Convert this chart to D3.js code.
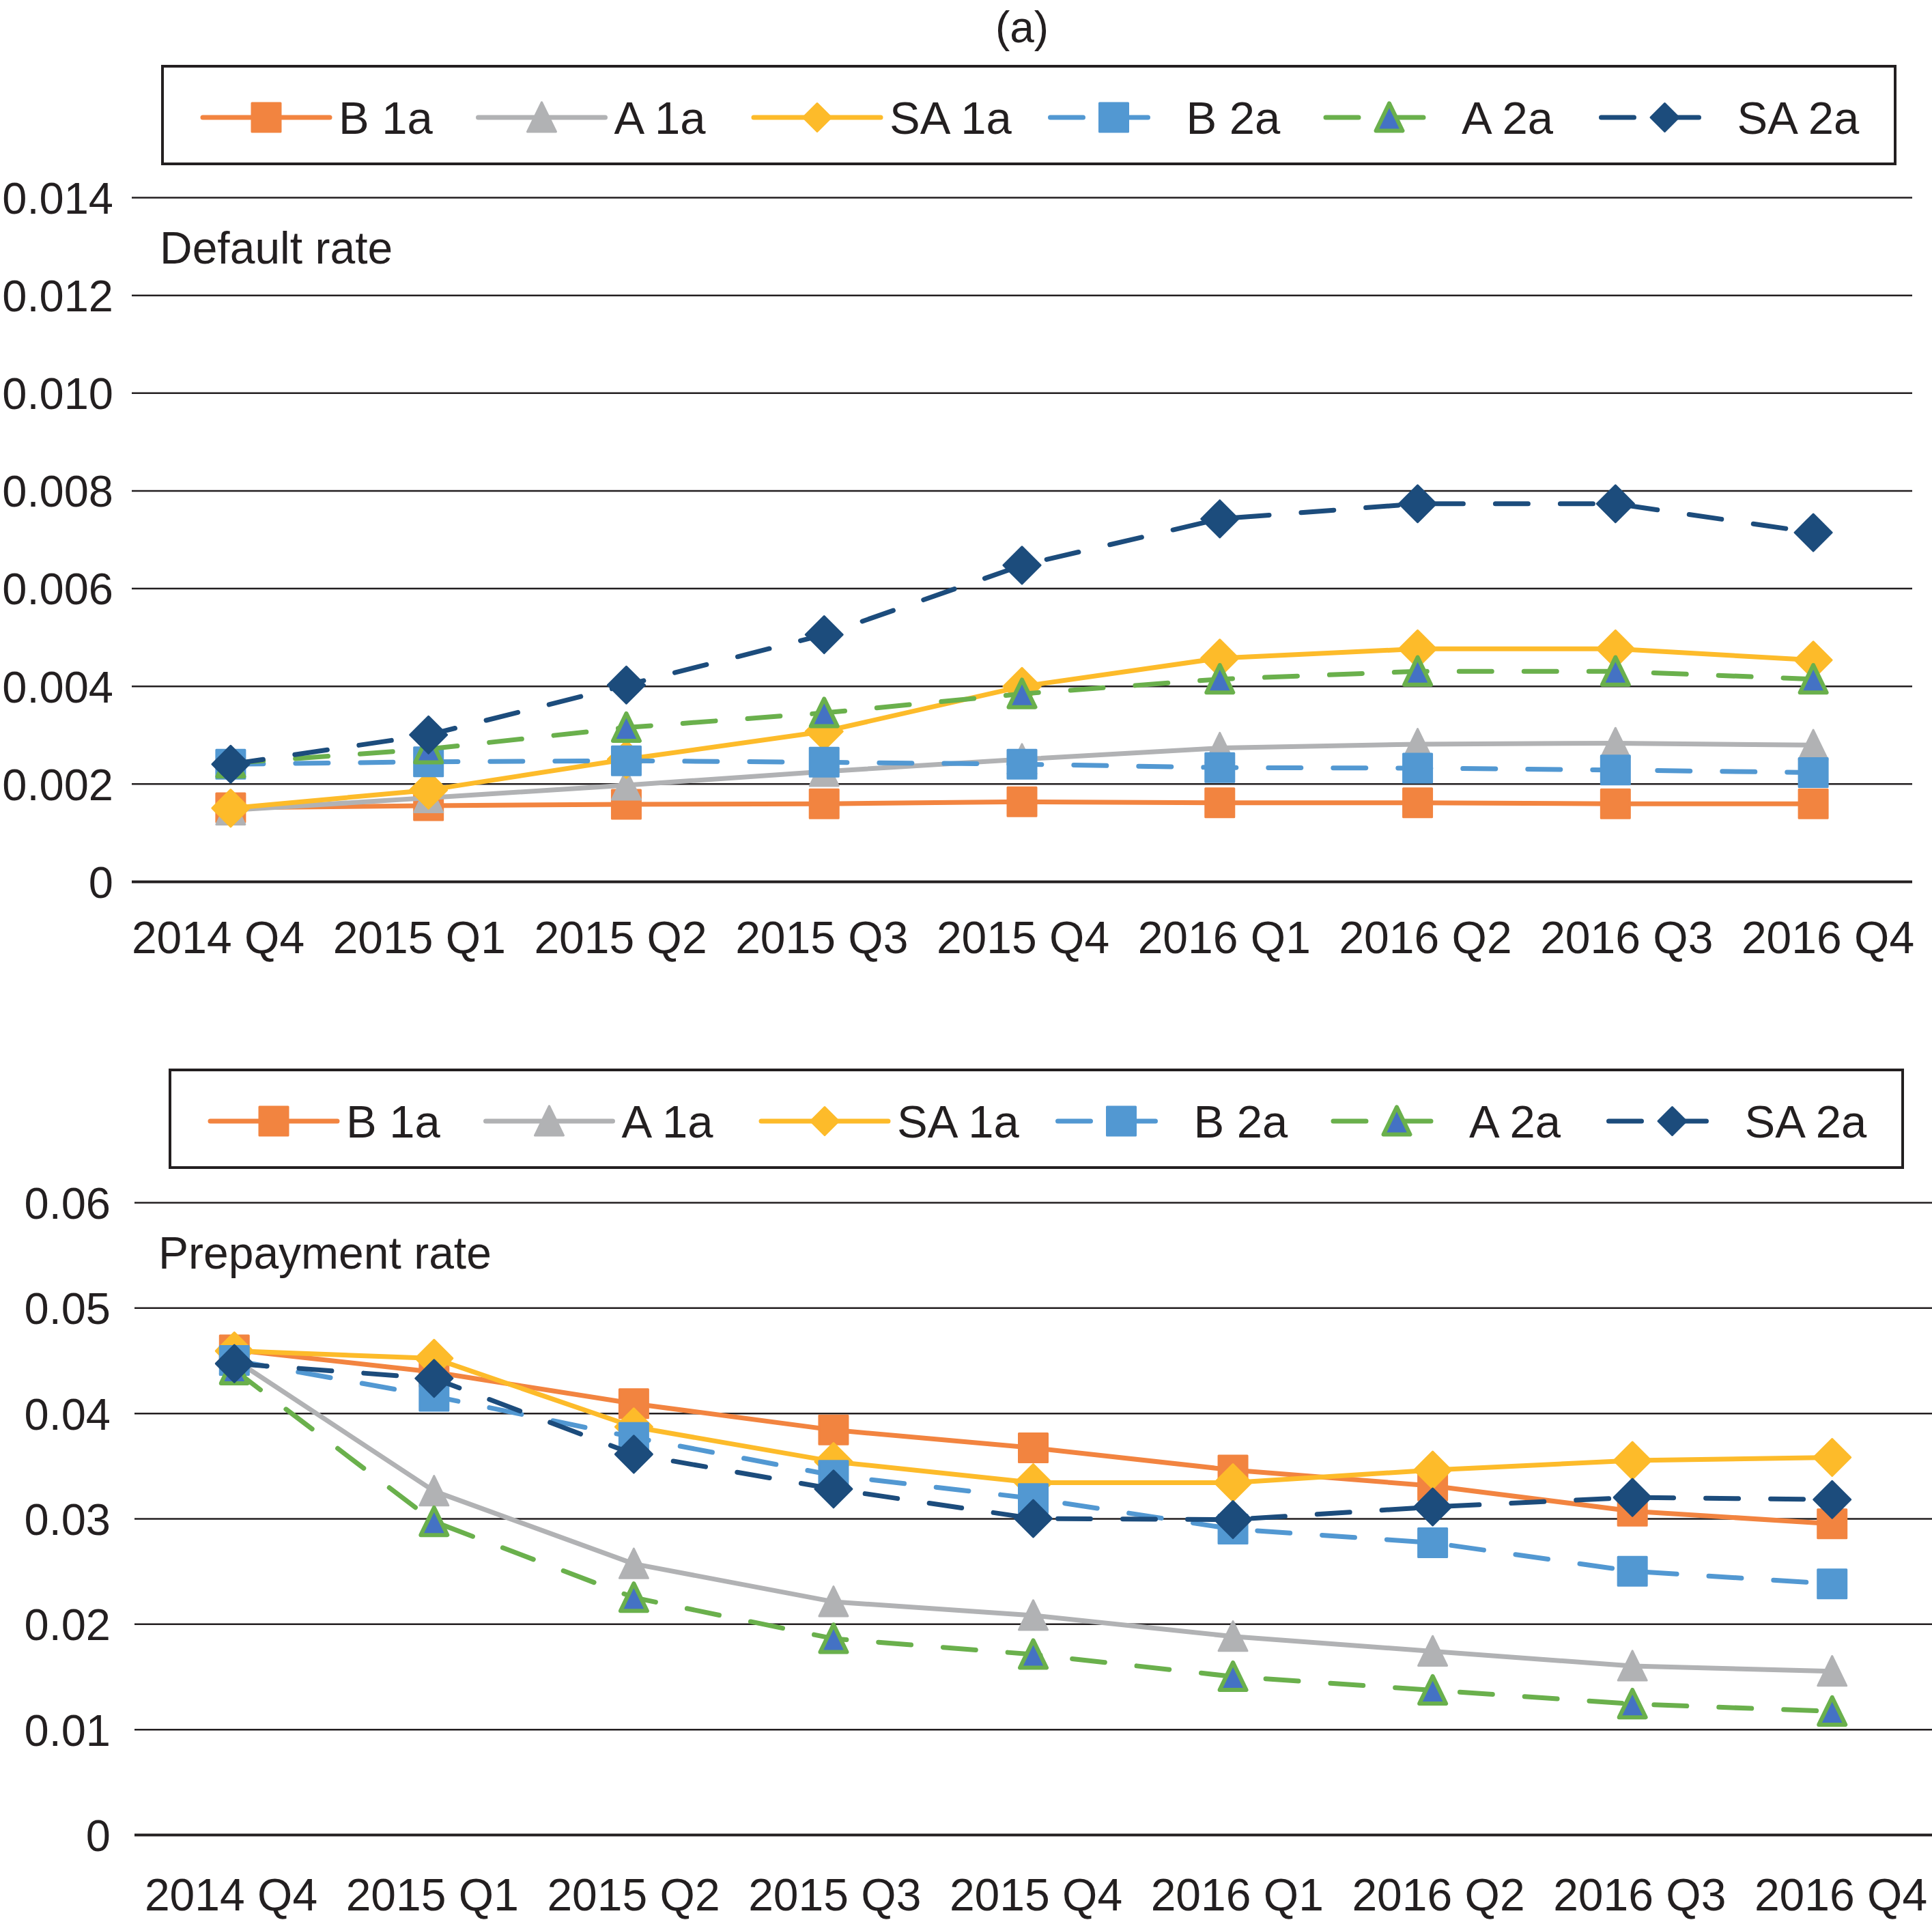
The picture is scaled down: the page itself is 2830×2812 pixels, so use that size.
<!DOCTYPE html>
<html>
<head>
<meta charset="utf-8">
<script src="https://cdn.jsdelivr.net/npm/d3@7"></script>
<style>
  html, body { margin: 0; padding: 0; background: #fff; }
  svg { display: block; }
</style>
</head>
<body>
<svg id="chart" width="2830" height="2812"></svg>
<script>
// categories
const quarters = ['2014 Q4', '2015 Q1', '2015 Q2', '2015 Q3', '2015 Q4', '2016 Q1', '2016 Q2', '2016 Q3', '2016 Q4'];
const seriesNames = ['B 1a', 'A 1a', 'SA 1a', 'B 2a', 'A 2a', 'SA 2a'];

// default rate
const defB1a  = [0.00151, 0.00155, 0.00158, 0.00159, 0.00163, 0.00161, 0.00161, 0.00159, 0.00159];
const defA1a  = [0.00146, 0.00171, 0.00197, 0.00225, 0.00250, 0.00273, 0.00281, 0.00283, 0.00279];
const defSA1a = [0.00150, 0.00187, 0.00250, 0.00307, 0.00399, 0.00457, 0.00476, 0.00476, 0.00453];
const defB2a  = [0.00240, 0.00245, 0.00247, 0.00244, 0.00240, 0.00233, 0.00232, 0.00228, 0.00223];
const defA2a  = [0.00242, 0.00271, 0.00315, 0.00345, 0.00384, 0.00414, 0.00430, 0.00430, 0.00414];
const defSA2a = [0.00240, 0.00300, 0.00402, 0.00505, 0.00647, 0.00742, 0.00773, 0.00773, 0.00714];

// prepayment rate
const preB1a  = [0.0460, 0.0439, 0.0409, 0.0384, 0.0367, 0.0346, 0.0331, 0.0307, 0.0295];
const preA1a  = [0.0451, 0.0326, 0.0257, 0.0221, 0.0208, 0.0188, 0.0174, 0.0160, 0.0155];
const preSA1a = [0.0459, 0.0452, 0.0387, 0.0354, 0.0334, 0.0334, 0.0346, 0.0355, 0.0358];
const preB2a  = [0.0450, 0.0416, 0.0377, 0.0341, 0.0319, 0.0290, 0.0277, 0.0250, 0.0238];
const preA2a  = [0.0441, 0.0297, 0.0225, 0.0186, 0.0171, 0.0150, 0.0137, 0.0124, 0.0117];
const preSA2a = [0.0447, 0.0433, 0.0361, 0.0328, 0.0300, 0.0299, 0.0311, 0.0320, 0.0318];

// ticks
const defTicks = [0, 0.002, 0.004, 0.006, 0.008, 0.010, 0.012, 0.014];
const defTickLabels = ['0', '0.002', '0.004', '0.006', '0.008', '0.010', '0.012', '0.014'];
const preTicks = [0, 0.01, 0.02, 0.03, 0.04, 0.05, 0.06];
const preTickLabels = ['0', '0.01', '0.02', '0.03', '0.04', '0.05', '0.06'];

const INK = '#231F20';
const FONT = "'Liberation Sans', Arial, Helvetica, sans-serif";

const styles = [
  {color: '#F28440', shape: 'square',   dash: false},
  {color: '#B1B2B4', shape: 'triangle', dash: false},
  {color: '#FDBB2A', shape: 'diamond',  dash: false},
  {color: '#5298D2', shape: 'square',   dash: true},
  {color: '#6AB04C', shape: 'triangle', dash: true, inner: '#4472C4'},
  {color: '#1C4C7C', shape: 'diamond',  dash: true}
];

// custom symbols, size = full width
const shapes = {
  square:   {draw(c, w){const h = w/2; c.moveTo(-h,-h); c.lineTo(h,-h); c.lineTo(h,h); c.lineTo(-h,h); c.closePath();}},
  diamond:  {draw(c, w){const h = w/2; c.moveTo(0,-h); c.lineTo(h,0); c.lineTo(0,h); c.lineTo(-h,0); c.closePath();}},
  triangle: {draw(c, w){const h = w/2; c.moveTo(0,-w*0.53); c.lineTo(h,w*0.5); c.lineTo(-h,w*0.5); c.closePath();}}
};

const svg = d3.select('#chart');

function drawMarker(g, st, x, y, legend){
  let w = st.shape === 'diamond' ? (legend ? 41 : 54) : 42;
  const p = g.append('path').attr('transform', `translate(${x},${y})`);
  if(st.inner){
    p.attr('d', d3.symbol().type(shapes[st.shape]).size(w - 3)())
     .attr('fill', st.inner).attr('stroke', st.color).attr('stroke-width', 6).attr('stroke-linejoin', 'round');
  } else {
    p.attr('d', d3.symbol().type(shapes[st.shape]).size(w)())
     .attr('fill', st.color).attr('stroke', st.color).attr('stroke-width', 3).attr('stroke-linejoin', 'round');
  }
}

function lineStyle(sel, st){
  sel.attr('fill', 'none').attr('stroke', st.color).attr('stroke-width', 7)
     .attr('stroke-linejoin', 'round').attr('stroke-linecap', 'round');
  if(st.dash) sel.attr('stroke-dasharray', '48,47');
}

function drawLegend(bx, by){
  const g = svg.append('g').attr('transform', `translate(${bx},${by})`);
  g.append('rect').attr('width', 2538).attr('height', 143)
    .attr('fill', 'none').attr('stroke', INK).attr('stroke-width', 4);
  seriesNames.forEach((name, i) => {
    const st = styles[i];
    const x = 59 + i*403.5 + (st.dash ? 31 : 0);
    const len = st.dash ? 148 : 186;
    const cy = 75;
    g.append('line').attr('x1', x).attr('x2', x + len).attr('y1', cy).attr('y2', cy).call(lineStyle, st);
    drawMarker(g, st, x + 93, cy, true);
    g.append('text').attr('x', x + 199).attr('y', cy).attr('dy', '0.36em')
      .attr('font-family', FONT).attr('font-size', 67).attr('fill', INK).text(name);
  });
}

function drawChart(cfg){
  const x = d3.scalePoint().domain(quarters).range([cfg.x0, cfg.x1]).padding(0.5);
  const xl = d3.scalePoint().domain(quarters).range([cfg.labelStart, cfg.labelStart + 8*294.75]);
  const y = d3.scaleLinear().domain([0, cfg.ticks[cfg.ticks.length-1]]).range([cfg.yBottom, cfg.yTop]);

  const ya = svg.append('g').attr('transform', `translate(${cfg.x0},0)`)
    .call(d3.axisLeft(y).tickValues(cfg.ticks).tickFormat((d, i) => cfg.tickLabels[i])
      .tickSize(-(cfg.x1 - cfg.x0)).tickPadding(cfg.x0 - cfg.labelRight));
  ya.select('.domain').remove();
  ya.selectAll('.tick line').attr('stroke', INK).attr('stroke-width', d => d === 0 ? 4 : 2.5);
  ya.selectAll('.tick text').attr('font-family', FONT).attr('font-size', 65).attr('fill', INK).attr('dy', '0.36em');

  const xa = svg.append('g').attr('transform', `translate(0,${cfg.labelY})`)
    .call(d3.axisBottom(xl).tickSize(0).tickPadding(0));
  xa.select('.domain').remove();
  xa.selectAll('.tick text').attr('font-family', FONT).attr('font-size', 66).attr('fill', INK).attr('dy', '0.36em');

  svg.append('text').attr('x', cfg.titleX).attr('y', cfg.titleY)
    .attr('font-family', FONT).attr('font-size', 66).attr('fill', INK).text(cfg.title);

  const line = d3.line().x((d, i) => x(quarters[i])).y(d => y(d));
  cfg.series.forEach((vals, k) => {
    const st = styles[k];
    const g = svg.append('g');
    g.append('path').datum(vals).attr('d', line).call(lineStyle, st);
    vals.forEach((v, i) => drawMarker(g, st, x(quarters[i]), y(v), false));
  });

  drawLegend(cfg.legendX, cfg.legendY);
}

svg.append('text').attr('x', 1497).attr('y', 62).attr('text-anchor', 'middle')
  .attr('font-family', FONT).attr('font-size', 64).attr('fill', INK).text('(a)');

drawChart({
  x0: 193, x1: 2801, yTop: 289, yBottom: 1291, labelRight: 166, labelY: 1372, labelStart: 319,
  ticks: defTicks, tickLabels: defTickLabels,
  series: [defB1a, defA1a, defSA1a, defB2a, defA2a, defSA2a],
  title: 'Default rate', titleX: 234, titleY: 386,
  legendX: 238, legendY: 97
});

drawChart({
  x0: 197, x1: 2830, yTop: 1761, yBottom: 2687, labelRight: 162, labelY: 2774, labelStart: 338,
  ticks: preTicks, tickLabels: preTickLabels,
  series: [preB1a, preA1a, preSA1a, preB2a, preA2a, preSA2a],
  title: 'Prepayment rate', titleX: 232, titleY: 1858,
  legendX: 249, legendY: 1567
});
</script>
</body>
</html>
